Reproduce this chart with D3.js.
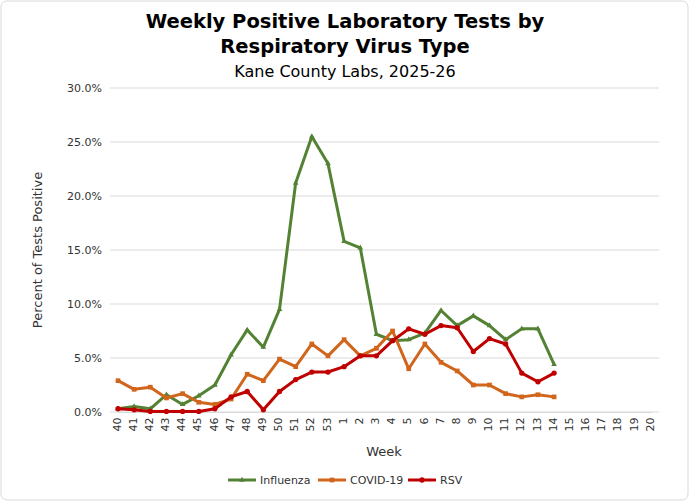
<!DOCTYPE html>
<html>
<head>
<script src="https://cdnjs.cloudflare.com/ajax/libs/d3/7.8.5/d3.min.js"></script>
<style>
body { margin: 0; background: #fff; font-family: "DejaVu Sans", Verdana, sans-serif; }
</style>
</head>
<body>
<div id="chart"></div>
<script>
var weeks = ["40","41","42","43","44","45","46","47","48","49","50","51","52","53",
  "1","2","3","4","5","6","7","8","9","10","11","12","13","14","15","16","17","18","19","20"];
var influenza = [0.3,0.5,0.3,1.6,0.7,1.5,2.5,5.3,7.6,6.0,9.5,21.2,25.5,23.0,15.8,15.2,7.2,6.6,6.7,7.3,9.4,8.0,8.9,8.0,6.7,7.7,7.7,4.4];
var covid = [2.9,2.1,2.3,1.3,1.7,0.9,0.7,1.2,3.5,2.9,4.9,4.2,6.3,5.2,6.7,5.2,5.9,7.5,4.0,6.3,4.6,3.8,2.5,2.5,1.7,1.4,1.6,1.4];
var rsv = [0.3,0.2,0.05,0.05,0.05,0.05,0.3,1.4,1.9,0.2,1.9,3.0,3.7,3.7,4.2,5.2,5.2,6.6,7.7,7.2,8.0,7.8,5.6,6.8,6.3,3.6,2.8,3.6];
var yTicks = [0,5,10,15,20,25,30];

var W = 690, H = 502;
var svg = d3.select("#chart").append("svg").attr("width", W).attr("height", H);
svg.append("rect").attr("x", 1).attr("y", 1).attr("width", W - 3).attr("height", H - 3)
  .attr("rx", 6).attr("fill", "#fff").attr("stroke", "#d9d9d9");

var x = d3.scalePoint().domain(weeks).range([118, 651]);
var y = d3.scaleLinear().domain([0, 30]).range([412, 88]);

svg.append("g").selectAll("line").data(yTicks).enter().append("line")
  .attr("x1", 110).attr("x2", 659).attr("y1", d => y(d)).attr("y2", d => y(d))
  .attr("stroke", "#d9d9d9");

var yAxis = svg.append("g").attr("transform", "translate(110,0)")
  .call(d3.axisLeft(y).tickValues(yTicks).tickSize(0).tickPadding(8).tickFormat(d => d.toFixed(1) + "%"));
yAxis.select(".domain").remove();
yAxis.selectAll("text").style("font-size", "11px").style("font-family", "DejaVu Sans").attr("fill", "#333");

var xAxis = svg.append("g").attr("transform", "translate(0,412)")
  .call(d3.axisBottom(x).tickSize(0).tickPadding(6));
xAxis.select(".domain").attr("stroke", "#d9d9d9");
xAxis.selectAll("text").style("font-size", "11px").style("font-family", "DejaVu Sans").attr("fill", "#333")
  .attr("transform", "rotate(-90)").attr("dx", "-0.5em").attr("dy", "-0.35em").style("text-anchor", "end");

var series = [
  {name: "Influenza", vals: influenza, color: "#548235", shape: d3.symbolTriangle, size: 14},
  {name: "COVID-19", vals: covid, color: "#d0651b", shape: d3.symbolSquare, size: 22},
  {name: "RSV", vals: rsv, color: "#c00000", shape: d3.symbolCircle, size: 22}
];
var line = d3.line().x((d, i) => x(weeks[i])).y(d => y(d));
series.forEach(function(s) {
  svg.append("path").datum(s.vals).attr("d", line).attr("fill", "none")
    .attr("stroke", s.color).attr("stroke-width", 3).attr("stroke-linejoin", "round");
  svg.append("g").selectAll("path").data(s.vals).enter().append("path")
    .attr("d", d3.symbol().type(s.shape).size(s.size))
    .attr("transform", (d, i) => "translate(" + x(weeks[i]) + "," + y(d) + ")")
    .attr("fill", s.color);
});

svg.append("text").attr("x", 345).attr("y", 28).attr("text-anchor", "middle")
  .style("font-size", "19.5px").style("font-weight", "bold").text("Weekly Positive Laboratory Tests by");
svg.append("text").attr("x", 345).attr("y", 53).attr("text-anchor", "middle")
  .style("font-size", "19.5px").style("font-weight", "bold").text("Respiratory Virus Type");
svg.append("text").attr("x", 345).attr("y", 77).attr("text-anchor", "middle")
  .style("font-size", "16px").text("Kane County Labs, 2025-26");
svg.append("text").attr("transform", "translate(42,250) rotate(-90)").attr("text-anchor", "middle")
  .style("font-size", "13px").attr("fill", "#333").text("Percent of Tests Positive");
svg.append("text").attr("x", 384).attr("y", 456).attr("text-anchor", "middle")
  .style("font-size", "13px").attr("fill", "#333").text("Week");

var lx = [228, 318, 408];
series.forEach(function(s, i) {
  var g = svg.append("g").attr("transform", "translate(" + lx[i] + ",480)");
  g.append("line").attr("x1", 0).attr("x2", 28).attr("stroke", s.color).attr("stroke-width", 3);
  g.append("path").attr("d", d3.symbol().type(s.shape).size(s.size)).attr("transform", "translate(14,0)").attr("fill", s.color);
  g.append("text").attr("x", 32).attr("y", 4).style("font-size", "11px").attr("fill", "#333").text(s.name);
});
</script>
</body>
</html>
